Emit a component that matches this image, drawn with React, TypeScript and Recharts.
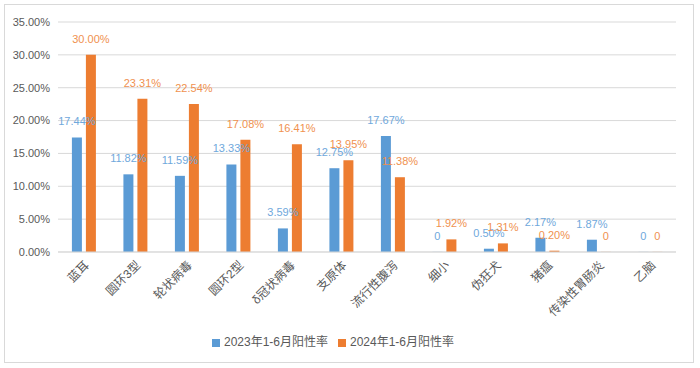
import { Bar, BarChart, CartesianGrid, LabelList, Legend, XAxis, YAxis } from 'recharts';

const categories = ['蓝耳', '圆环3型', '轮状病毒', '圆环2型', 'δ冠状病毒', '支原体', '流行性腹泻', '细小', '伪狂犬', '猪瘟', '传染性胃肠炎', '乙脑'];
const rate2023 = [17.44, 11.82, 11.59, 13.33, 3.59, 12.75, 17.67, 0, 0.5, 2.17, 1.87, 0];
const rate2024 = [30.0, 23.31, 22.54, 17.08, 16.41, 13.95, 11.38, 1.92, 1.31, 0.2, 0, 0];
const yTicks = [0, 5, 10, 15, 20, 25, 30, 35];

const BLUE = '#5b9bd5';
const ORANGE = '#ed7d31';
const FONT = '"Liberation Sans", "Noto Sans CJK SC", sans-serif';

const data = categories.map((name, i) => ({ name, a: rate2023[i], b: rate2024[i] }));

const fmt = (v: any) => (Number(v) === 0 ? '0' : `${Number(v).toFixed(2)}%`);

export default function App() {
  return (
    <div style={{ position: 'absolute', left: 0, top: 0, width: 700, height: 368, background: '#fff', fontFamily: FONT }}>
      <div style={{ position: 'absolute', left: 4, top: 4, width: 688, height: 357, border: '1px solid #d9d9d9' }} />
      <BarChart
        width={700}
        height={368}
        data={data}
        margin={{ top: 22, right: 24, left: 0, bottom: 19 }}
        barGap={4}
        barCategoryGap="27%"
        style={{ position: 'absolute', left: 0, top: 0 }}
      >
        <CartesianGrid vertical={false} stroke="#d9d9d9" />
        <XAxis
          dataKey="name"
          interval={0}
          height={80}
          tickLine={false}
          axisLine={{ stroke: '#d9d9d9' }}
          angle={-45}
          textAnchor="end"
          tick={{ fontSize: 12, fill: '#595959', fontFamily: FONT }}
        />
        <YAxis
          width={58}
          domain={[0, 35]}
          ticks={yTicks}
          tickFormatter={(v) => `${Number(v).toFixed(2)}%`}
          axisLine={false}
          tickLine={false}
          tick={{ fontSize: 11, fill: '#595959', fontFamily: FONT }}
        />
        <Legend
          verticalAlign="bottom"
          iconType="square"
          iconSize={8}
          wrapperStyle={{ fontSize: 12, color: '#595959', fontFamily: FONT }}
          formatter={(value) => <span style={{ color: '#595959' }}>{value}</span>}
        />
        <Bar dataKey="a" name="2023年1-6月阳性率" fill={BLUE} minPointSize={0.1} isAnimationActive={false}>
          <LabelList dataKey="a" position="top" offset={12} formatter={fmt} style={{ fontSize: 11, fill: '#6fa8dc', fontFamily: FONT }} />
        </Bar>
        <Bar dataKey="b" name="2024年1-6月阳性率" fill={ORANGE} minPointSize={0.1} isAnimationActive={false}>
          <LabelList dataKey="b" position="top" offset={12} formatter={fmt} style={{ fontSize: 11, fill: '#f0914f', fontFamily: FONT }} />
        </Bar>
      </BarChart>
    </div>
  );
}
